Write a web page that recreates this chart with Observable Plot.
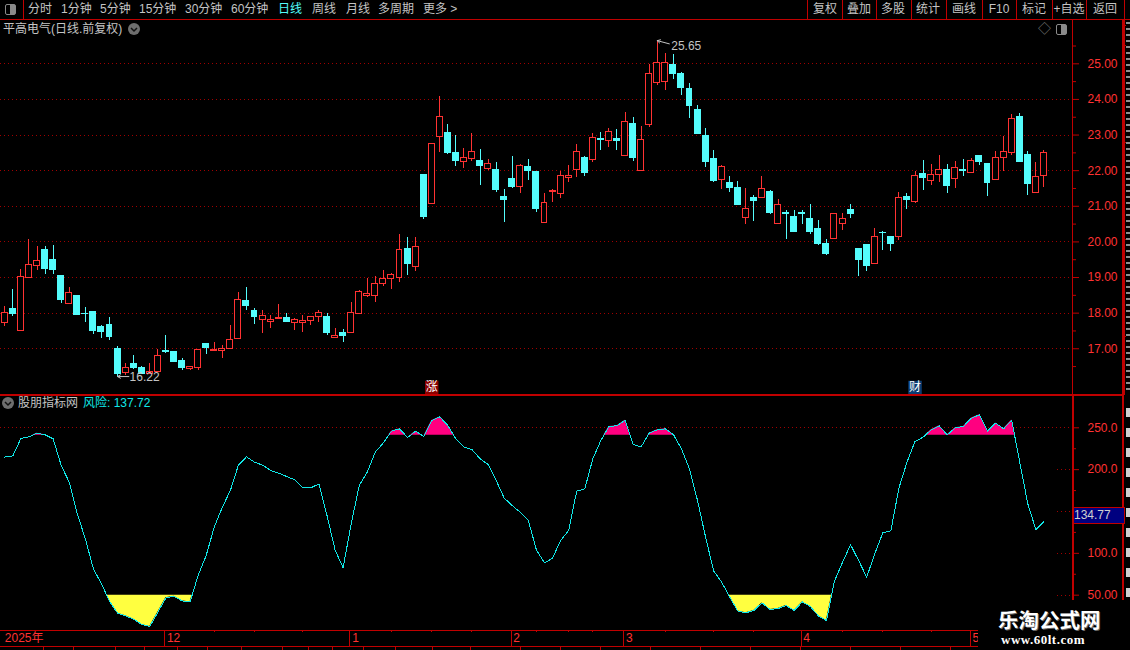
<!DOCTYPE html>
<html lang="zh">
<head>
<meta charset="utf-8">
<title>平高电气(日线.前复权)</title>
<script src="https://cdn.jsdelivr.net/npm/d3@7"></script>
<script src="https://cdn.jsdelivr.net/npm/@observablehq/plot@0.6"></script>
<style>
html,body{margin:0;padding:0;background:#000;}
#root{position:relative;width:1130px;height:650px;background:#000;overflow:hidden;font-family:"Liberation Sans","Noto Sans CJK SC",sans-serif;}
#root svg{position:absolute;left:0;}
.t{position:absolute;white-space:nowrap;line-height:1;}
.l{position:absolute;background:#c00000;}
</style>
</head>
<body>
<div id="root"></div>
<script>
// ---- chart data ----
const opens = [
17.72,18.13,17.49,19.00,19.32,19.76,19.48,19.03,18.25,18.47,
17.99,18.04,17.60,17.68,17.00,16.31,16.56,16.47,16.28,16.34,
16.94,16.92,16.67,16.42,16.45,17.12,16.94,16.93,16.99,17.27,
18.33,18.07,17.80,17.75,17.83,17.87,17.71,17.71,17.77,17.88,
17.90,17.30,17.43,17.44,17.99,18.47,18.49,18.82,18.97,19.00,
19.80,19.29,21.87,21.07,22.95,23.07,22.51,22.24,22.32,22.26,
22.05,22.01,21.26,21.77,21.54,22.09,21.95,20.53,21.40,21.35,
21.79,22.02,22.35,22.30,22.89,22.82,22.90,22.41,23.32,22.00,
23.27,24.45,24.48,24.98,24.70,24.29,23.70,22.98,22.32,21.73,
21.64,21.52,20.68,21.23,21.24,21.40,20.49,20.81,20.70,20.81,
20.65,20.35,19.93,20.09,20.49,20.89,19.81,19.90,19.37,20.26,
20.15,20.13,21.27,21.13,21.90,21.71,21.89,22.01,21.77,22.01,
21.93,22.40,22.18,21.74,22.36,22.50,23.51,22.43,21.37,21.85];
const closes = [
18.01,17.99,19.02,19.35,19.47,19.25,19.20,18.38,18.57,17.96,
17.97,17.51,17.48,17.32,16.28,16.46,16.45,16.30,16.35,16.80,
16.90,16.64,16.45,16.49,16.97,17.01,16.96,17.00,17.25,18.37,
18.21,17.90,17.92,17.81,17.87,17.76,17.81,17.78,17.90,18.00,
17.45,17.36,17.37,18.00,18.59,18.53,18.83,18.97,19.06,19.76,
19.38,19.86,20.70,22.75,23.52,22.51,22.26,22.36,22.53,22.12,
22.19,21.47,21.18,21.54,22.14,21.98,20.93,21.08,21.44,21.84,
21.86,22.53,21.93,22.92,22.87,23.09,22.82,23.37,22.35,22.87,
24.72,25.03,25.03,24.70,24.33,23.81,23.04,22.23,21.72,22.11,
21.52,21.04,20.91,21.15,21.48,20.81,21.03,20.77,20.29,20.77,
20.28,19.93,19.67,20.78,20.64,20.78,19.50,19.31,20.14,20.24,
19.93,21.23,21.18,21.85,21.79,21.89,22.03,21.56,22.08,21.99,
22.28,22.23,21.64,22.36,22.53,23.45,22.23,21.62,21.83,22.50];
const highs = [
18.19,18.66,19.22,20.07,19.87,19.86,19.90,19.05,18.72,18.47,
18.16,18.04,17.65,17.88,17.06,16.58,16.81,16.50,16.59,16.99,
17.37,16.92,16.73,16.51,16.97,17.12,17.17,17.09,17.65,18.58,
18.72,18.13,18.07,17.93,18.24,17.98,17.85,17.92,17.90,18.07,
17.98,17.57,17.54,18.29,18.63,18.97,19.04,19.20,19.12,20.20,
20.12,20.12,21.87,22.75,24.09,23.29,22.98,22.62,23.04,22.60,
22.31,22.23,21.46,22.40,22.18,22.31,21.95,21.37,21.46,21.97,
22.14,22.74,22.40,23.03,23.07,23.18,23.15,23.63,23.49,23.23,
24.98,25.65,25.29,25.26,24.76,24.45,23.84,23.18,22.57,22.15,
21.84,21.70,21.50,21.29,21.85,21.43,21.18,20.89,20.89,20.89,
21.04,20.59,20.07,20.78,20.81,21.04,19.81,19.93,20.37,20.29,
20.15,21.40,21.37,21.98,22.29,22.18,22.43,22.18,22.26,22.32,
22.34,22.43,22.21,22.54,22.95,23.57,23.60,22.54,22.23,22.57];
const lows = [
17.62,17.90,17.49,19.00,19.20,19.08,19.08,18.27,18.25,17.96,
17.74,17.40,17.29,17.23,16.22,16.25,16.42,16.30,16.28,16.34,
16.88,16.62,16.39,16.39,16.39,16.84,16.92,16.73,16.99,17.27,
18.07,17.68,17.43,17.57,17.83,17.73,17.51,17.45,17.65,17.73,
17.37,17.30,17.18,17.44,17.99,18.43,18.31,18.76,18.67,18.87,
19.07,19.17,20.62,21.07,22.51,22.46,22.12,22.07,22.26,21.58,
22.01,21.38,20.54,21.51,21.35,21.72,20.82,20.53,21.10,21.22,
21.67,21.81,21.84,22.24,22.58,22.64,22.58,22.41,22.27,21.97,
23.22,24.38,24.25,24.56,24.12,23.47,23.01,22.09,21.67,21.47,
21.38,21.01,20.50,20.56,21.24,20.78,20.49,20.06,20.29,20.49,
20.20,19.90,19.61,20.07,20.32,20.67,19.03,19.16,19.37,19.76,
19.73,20.04,20.90,21.07,21.45,21.59,21.67,21.36,21.50,21.84,
21.93,22.15,21.28,21.74,21.98,22.43,22.23,21.31,21.37,21.54];
const risk = [
215,216.5,237.3,239.2,243.6,241.6,236.9,205,185,147.2,
117.3,81.5,63.5,42.8,28.5,25.3,21.3,15,12.5,29.7,
46.8,48.8,43.2,42,73.5,97.4,131.3,155,175,205.4,
215.3,209,205.4,199,195.8,191.8,187.8,178.3,178.3,183,
145.2,104.2,82.7,135.3,181,197,221,232,246,248.8,
238.4,246,239.6,258.8,263,252.8,236.5,226.9,224,213,
206.2,187,166,157,149,139,104,88.6,94.2,115.3,
127.3,174.3,177,213,234.9,251.6,252.4,259,230,227.3,
243.6,247.6,248.8,242,225,201,163,119.3,79,65.5,
47.6,31,29,31.7,40.8,32.9,34,37.6,31.7,42,
36.5,25.3,19.7,66.7,89.4,110.2,91.4,71.5,99.4,124.5,
126.9,177.9,209,233.7,238.8,247.6,252.4,241.6,250,251.6,
261.6,265.5,246,255.6,248.8,259.2,209,159.2,128.5,137.72];

const priceTicks = [17,18,19,20,21,22,23,24,25];
const priceMinorTicks = [16.5,17.5,18.5,19.5,20.5,21.5,22.5,23.5,24.5,25.5];
const riskTicks = [50,100,150,200,250];
const riskCoveredTick = 150; // its label lies under the crosshair value box
const riskMinorTicks = [75,125,175,225];
const riskLow = 50, riskHigh = 241, riskDotted = 250;

const monthIndex = [20,43,63,77,99,120];
const monthLabels = ["12","1","2","3","4","5"];
const yearLabel = "2025年";
const weekIndex = [26,31,37,48,53,58,66,70,73,82,88,93,104,109,115];

const peak = {i:81, p:25.65}, trough = {i:14, p:16.22};
const badges = [{i:53, text:"涨", color:"#8b0000"},{i:113, text:"财", color:"#0c3d73"}];
const stockTitle = "平高电气(日线.前复权)";
const indicatorName = "股朋指标网";
const riskLabel = "风险: 137.72";
const crossValue = "134.77";

const navLabels = ["分时","1分钟","5分钟","15分钟","30分钟","60分钟","日线","周线","月线","多周期","更多 >"];
const navLeft = [28,61,100,139,185,231,278,312,346,378,423];
const toolLabels = ["复权","叠加","多股","统计","画线","F10","标记","+自选","返回"];
const toolCenter = [825,859,893,928,964,999,1034,1069,1105];
const toolSeparators = [807,842,876,911,946,982,1016,1052,1086,1124];

// ---- colours ----
const RED="#ff3232", CYAN="#54fcfc", DARK="#c00000", DOT="#a00000", GREY="#c4c4c4";
const FONT='"Liberation Sans","Noto Sans CJK SC",sans-serif';

const candles = opens.map((o,i)=>({i,o,c:closes[i],h:highs[i],l:lows[i]}));
const up = candles.filter(d=>d.c>=d.o), down = candles.filter(d=>d.c<d.o);
const xScale = {domain:[-0.534,132.55], axis:null};
const W = 1130, MR = 58;

// Piecewise segments of the risk line beyond a threshold, with exact crossings added.
function beyond(thr, keep){
  const pts=[];
  risk.forEach((v,i)=>{
    if(i>0){
      const p=risk[i-1];
      if((p-thr)*(v-thr)<0) pts.push({i:i-1+(thr-p)/(v-p),v:thr});
    }
    pts.push({i,v:keep(v,thr)});
  });
  return pts;
}
const overlay = beyond(riskHigh,Math.max), underlay = beyond(riskLow,Math.min);

const axisFmt = {fontSize:12, fontFamily:FONT};
const pricePlot = Plot.plot({
  width:W, height:395, marginTop:20, marginBottom:1, marginLeft:0, marginRight:MR,
  style:{background:"transparent",color:RED,fontFamily:FONT,fontSize:"12px"},
  x:xScale,
  y:{domain:[15.716,26.216]},
  marks:[
    Plot.ruleY(priceTicks,{stroke:DOT,strokeDasharray:"1 3",shapeRendering:"crispEdges"}),
    Plot.axisY(priceTicks,{anchor:"right",tickSize:6,tickPadding:9,tickFormat:d=>d.toFixed(2),stroke:DARK,fill:RED,label:null,...axisFmt}),
    Plot.axisY(priceMinorTicks,{anchor:"right",tickSize:3,tickFormat:()=>"",stroke:DARK,label:null}),
    Plot.ruleX(up,{x:"i",y1:"l",y2:"h",stroke:RED,shapeRendering:"crispEdges"}),
    Plot.ruleX(down,{x:"i",y1:"l",y2:"h",stroke:CYAN,shapeRendering:"crispEdges"}),
    Plot.rect(up,{x1:d=>d.i-0.37,x2:d=>d.i+0.37,y1:"o",y2:"c",fill:"#000",stroke:RED,shapeRendering:"crispEdges"}),
    Plot.rect(down,{x1:d=>d.i-0.37,x2:d=>d.i+0.37,y1:"o",y2:"c",fill:CYAN,stroke:CYAN,shapeRendering:"crispEdges"}),
    Plot.arrow([peak],{x1:d=>d.i+1.5,y1:d=>d.p-0.09,x2:"i",y2:"p",stroke:GREY,headLength:5,strokeWidth:1}),
    Plot.text([peak],{x:"i",y:"p",text:d=>d.p.toFixed(2),dx:14,dy:5,textAnchor:"start",fill:GREY,fontSize:12}),
    Plot.arrow([trough],{x1:d=>d.i+1.4,y1:"p",x2:"i",y2:"p",stroke:GREY,headLength:5,strokeWidth:1}),
    Plot.text([trough],{x:"i",y:"p",text:d=>d.p.toFixed(2),dx:12,dy:1,textAnchor:"start",fill:GREY,fontSize:12}),
    Plot.dot(badges,{x:"i",frameAnchor:"bottom",dy:-7,r:7.6,symbol:"square",fill:"color"}),
    Plot.text(badges,{x:"i",frameAnchor:"bottom",dy:-7,lineAnchor:"middle",text:"text",fill:"#fff",fontSize:12}),
    Plot.frame({anchor:"right",stroke:DARK})
  ]
});

const riskPlot = Plot.plot({
  width:W, height:235, marginTop:0, marginBottom:0, marginLeft:0, marginRight:MR,
  style:{background:"transparent",color:RED,fontFamily:FONT,fontSize:"12px"},
  x:xScale,
  y:{domain:[7.8,288.6]},
  marks:[
    Plot.ruleY([riskDotted],{stroke:DOT,strokeDasharray:"1 3",shapeRendering:"crispEdges"}),
    Plot.ruleY(riskTicks.filter(v=>v!==riskDotted),{x1:130.7,x2:132.55,stroke:DOT,strokeDasharray:"1 3",shapeRendering:"crispEdges"}),
    Plot.axisY(riskTicks,{anchor:"right",tickSize:6,tickPadding:9,tickFormat:d=>d===riskCoveredTick?"":d.toPrecision(4),stroke:DARK,fill:RED,label:null,...axisFmt}),
    Plot.axisY(riskMinorTicks,{anchor:"right",tickSize:3,tickFormat:()=>"",stroke:DARK,label:null}),
    Plot.areaY(overlay,{x:"i",y1:riskHigh,y2:"v",fill:"#ff0080"}),
    Plot.areaY(underlay,{x:"i",y1:riskLow,y2:"v",fill:"#ffff40"}),
    Plot.line(risk,{x:(d,i)=>i,y:d=>d,stroke:"#10e8e8",strokeWidth:1,shapeRendering:"crispEdges"})
  ]
});

const datePlot = Plot.plot({
  width:W, height:20, marginTop:0, marginBottom:4, marginLeft:0, marginRight:MR,
  style:{background:"transparent",color:RED,fontFamily:FONT,fontSize:"12px"},
  x:xScale,
  y:{domain:[0,1],axis:null},
  marks:[
    Plot.ruleX(monthIndex,{x:d=>d-0.15,stroke:DARK,shapeRendering:"crispEdges"}),
    Plot.ruleX(weekIndex,{x:d=>d,stroke:DARK,insetBottom:14,shapeRendering:"crispEdges"}),
    Plot.text(monthIndex,{x:d=>d,frameAnchor:"middle",text:(d,i)=>monthLabels[i],dx:1,textAnchor:"start",fill:RED}),
    Plot.text([yearLabel],{x:()=>0,frameAnchor:"middle",text:d=>d,dx:0,textAnchor:"start",fill:RED}),
    Plot.frame({anchor:"top",stroke:DARK}),
    Plot.frame({anchor:"bottom",stroke:DARK})
  ]
});

const root = document.getElementById("root");
[[pricePlot,0],[riskPlot,395],[datePlot,630]].forEach(([el,top])=>{el.style.top=top+"px";root.appendChild(el);});

function line(l,t,w,h,c){const d=document.createElement("div");d.className="l";d.style.cssText=`left:${l}px;top:${t}px;width:${w}px;height:${h}px;`+(c?`background:${c};`:"");root.appendChild(d);return d;}
function text(s,l,t,size,color,extra){const d=document.createElement("div");d.className="t";d.textContent=s;d.style.cssText=`left:${l}px;top:${t}px;font-size:${size}px;color:${color};`+(extra||"");root.appendChild(d);return d;}
function chevron(cx,cy){
  const d=document.createElement("div");
  d.style.cssText=`position:absolute;left:${cx-6}px;top:${cy-6}px;width:12px;height:12px;border-radius:6px;background:#6e6e6e;`;
  d.innerHTML='<svg width="12" height="12" style="position:absolute;left:0;top:0"><path d="M3 5 L6 8 L9 5" fill="none" stroke="#111" stroke-width="1.5"/></svg>';
  root.appendChild(d);
}
function toggleIcon(cx,cy){
  const d=document.createElement("div");
  d.style.cssText=`position:absolute;left:${cx-6}px;top:${cy-6}px;width:9px;height:9px;border:1.5px solid #8a8a8a;border-radius:2px;background:linear-gradient(90deg,#000 0 45%,#8a8a8a 45% 100%);`;
  root.appendChild(d);
}

// toolbar frame
line(0,19,1130,1);
line(23,0,1,19);
toggleIcon(11,10);
toolSeparators.forEach(x=>line(x,0,1,19));
navLabels.forEach((s,i)=>text(s,navLeft[i],3,12,s==="日线"?CYAN:GREY));
toolLabels.forEach((s,i)=>text(s,toolCenter[i],3,12,GREY,"transform:translateX(-50%);"));

// panel titles
text(stockTitle,3,23,12,GREY);
chevron(134,29);
text("◇",1038,22,13,"#777");
toggleIcon(1062,30);
chevron(8,403);
text(indicatorName,18,397,12,GREY);
text(riskLabel,83,397,12,"#10e8e8");

// panel frame
line(0,394,1124,2);
line(1072,395,2,205);
line(1122,20,2,580);
line(1124,25,6,1);
line(1124,45,6,1);
[142,239,336].forEach(y=>line(1124,y,6,1));
line(1124,0,1,395);
line(0,646,978,1);
[43,73,115,144,177,207,241,282,308,332,363,395,432,470,520,560,600,650,700,750,800,850,900,950].forEach(x=>line(x,646,1,4));

// side strip
const strip=line(1126,22,4,372,"transparent");
strip.style.background="repeating-linear-gradient(180deg,#8f8f8f 0 2px,#000 2px 6px)";
const strip2=line(1126,408,4,192,"transparent");
strip2.style.background="repeating-linear-gradient(180deg,#cfcfcf 0 9px,#000 9px 20px)";

// crosshair value box
const box=line(1073,507,50,15,"#000080");
box.style.border="1px solid "+DARK;
box.style.boxSizing="content-box";
box.style.left="1073px";
text(crossValue,1074,509,12,"#d0d0d0");

// watermark
line(978,628,152,22,"#000");
line(1072,600,58,30,"#000");
text("乐淘公式网",998,609,20.5,"#fff",'font-weight:700;font-family:"Noto Sans CJK SC";text-shadow:1px 1px 0 #666;');
text("www.60lt.com",1001,633,13,"#fff",'font-weight:700;font-family:"Liberation Serif";letter-spacing:0.5px;');
</script>
</body>
</html>
